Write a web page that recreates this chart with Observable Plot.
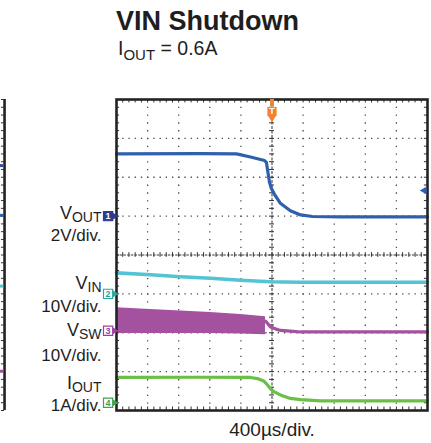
<!DOCTYPE html>
<html>
<head>
<meta charset="utf-8">
<script src="https://cdn.jsdelivr.net/npm/d3@7"></script>
<script src="https://cdn.jsdelivr.net/npm/@observablehq/plot@0.6"></script>
<style>
  body { margin: 0; background: #fff; font-family: "Liberation Sans", Arial, sans-serif; }
  #wrap { position: relative; width: 431px; height: 443px; overflow: hidden; }
  #title { position: absolute; left: 116px; top: 8px; font-size: 27px; font-weight: bold; line-height: 27px; color: #1e1e1e; white-space: nowrap; }
  #subtitle { position: absolute; left: 118px; top: 39px; font-size: 19.5px; line-height: 19.5px; color: #1e1e1e; white-space: nowrap; }
  #subtitle .sub { font-size: 15px; position: relative; top: 5px; }
  #chart svg { display: block; }
</style>
</head>
<body>
<div id="wrap">
  <div id="chart"></div>
  <div id="title">VIN Shutdown</div>
  <div id="subtitle">I<span class="sub">OUT</span> = 0.6A</div>
</div>
<script>
// ---- data (time in divisions, amplitude in divisions from bottom) ----
const timeLabel = "400µs/div.";

const voutT = [0, 2.70, 3.86, 4.31, 4.76, 4.82, 4.87, 4.92, 4.98, 5.08, 5.27, 5.59, 5.92, 6.30, 7.20, 10];
const voutV = [6.60, 6.61, 6.60, 6.52, 6.43, 6.38, 6.12, 5.87, 5.71, 5.56, 5.33, 5.14, 5.03, 4.99, 4.98, 4.98];

const vinT = [0, 1.09, 2.06, 3.02, 3.99, 4.95, 5.92, 10];
const vinV = [3.54, 3.49, 3.44, 3.40, 3.35, 3.31, 3.30, 3.30];

const vswBandT = [0, 1.09, 2.06, 3.02, 3.99, 4.79];
const vswBandHigh = [2.64, 2.60, 2.56, 2.52, 2.47, 2.41];
const vswBandLow = [1.98, 1.98, 1.98, 1.98, 1.97, 1.95];
const vswT = [4.79, 4.86, 4.95, 5.11, 5.27, 5.59, 5.92, 10];
const vswV = [2.30, 2.24, 2.15, 2.10, 2.06, 2.04, 2.02, 2.02];

const ioutT = [0, 2.70, 4.31, 4.53, 4.73, 4.84, 4.95, 5.05, 5.27, 5.59, 5.92, 6.56, 10];
const ioutV = [0.85, 0.855, 0.85, 0.82, 0.76, 0.67, 0.56, 0.49, 0.40, 0.31, 0.28, 0.25, 0.25];

const chIds = ["1", "2", "3", "4"];
const chNames = ["V|OUT", "V|IN", "V|SW", "I|OUT"];
const chScales = ["2V/div.", "10V/div.", "10V/div.", "1A/div."];
const chLevels = [5, 3, 2.05, 0.2];

const trigT = 5.0;
const voutTrigLevel = 5.66;

// neighbouring (cut-off) panel trace ends on the far left
const leftStubLevels = [6.30, 5.02, 3.20, 1.01];

// ---- styles / layout ----
const cBlue = "#2f5fad", cCyan = "#52c4d3", cMag = "#a4529f", cGreen = "#6cbf46", cOrange = "#f3812f";
const chColors = ["#2c3d8f", "#2aa69c", "#9a42a0", "#40a34b"];
const stubColors = ["#3a4d9a", cBlue, cCyan, cMag];
const nameDy = [2.4, -4.5, 5.5, -14];
const scaleDy = [25, 18, 30, 8];

const xMinor = d3.range(0, 10.0001, 0.2);
const yMinor = d3.range(0, 8.0001, 0.2);
const gridStroke = "#4a4a4a";

const toRows = (T, V) => T.map((t, i) => ({t, v: V[i]}));
const vout = toRows(voutT, voutV);
const vin = toRows(vinT, vinV);
const vsw = toRows(vswT, vswV);
const iout = toRows(ioutT, ioutV);
const band = vswBandT.map((t, i) => ({t, hi: vswBandHigh[i], lo: vswBandLow[i]}));
const chans = chIds.map((id, i) => ({id, name: chNames[i], scale: chScales[i], level: chLevels[i], color: chColors[i]}));

const marks = [
  // grid
  Plot.ruleY([1, 2, 3, 5, 6, 7], {stroke: gridStroke, strokeWidth: 1.3, strokeDasharray: "1.3,4.92"}),
  Plot.ruleX([1, 2, 3, 4, 6, 7, 8, 9], {stroke: gridStroke, strokeWidth: 1.3, strokeDasharray: "1.3,6.48"}),
  // centre lines
  Plot.ruleY([4], {stroke: "#333", strokeWidth: 1, strokeDasharray: "2.5,1.2"}),
  Plot.ruleX([5], {stroke: "#333", strokeWidth: 1, strokeDasharray: "3,1.5"}),
  Plot.ruleX(xMinor, {x: d => d, y1: 3.94, y2: 4.06, stroke: "#333", strokeWidth: 1}),
  Plot.ruleY(yMinor, {y: d => d, x1: 4.92, x2: 5.08, stroke: "#333", strokeWidth: 1}),
  // edge ticks
  Plot.ruleX(xMinor, {x: d => d, y1: 8, y2: 7.91, stroke: "#333", strokeWidth: 1}),
  Plot.ruleX(xMinor, {x: d => d, y1: 0, y2: 0.09, stroke: "#333", strokeWidth: 1}),
  Plot.ruleY(yMinor, {y: d => d, x1: 0, x2: 0.1, stroke: "#333", strokeWidth: 1}),
  Plot.ruleY(yMinor, {y: d => d, x1: 9.9, x2: 10, stroke: "#333", strokeWidth: 1}),

  // traces
  Plot.areaY(band, {x: "t", y1: "lo", y2: "hi", fill: cMag, curve: "linear"}),
  Plot.lineY(vsw, {x: "t", y: "v", stroke: cMag, strokeWidth: 3.2}),
  Plot.lineY(vin, {x: "t", y: "v", stroke: cCyan, strokeWidth: 3.6}),
  Plot.lineY(iout, {x: "t", y: "v", stroke: cGreen, strokeWidth: 3.2}),
  Plot.lineY(vout, {x: "t", y: "v", stroke: cBlue, strokeWidth: 3.2}),

  Plot.frame({stroke: "#232323", strokeWidth: 2.6}),

  // trigger marker
  Plot.ruleX([trigT], {y1: 8, y2: 7.82, stroke: cOrange, strokeWidth: 4}),
  Plot.dot([trigT], {x: d => d, y: 7.69, symbol: "square", r: 5.2, fill: cOrange}),
  Plot.dot([trigT], {x: d => d, y: 7.52, symbol: "triangle", rotate: 180, r: 2.8, fill: cOrange}),
  Plot.text([trigT], {x: d => d, y: 7.69, text: () => "T", fill: "#fff", fontSize: 9, fontWeight: "bold"}),
  // trigger level arrow on right
  Plot.dot([voutTrigLevel], {x: 9.9, y: d => d, symbol: "triangle", rotate: -90, r: 3, fill: cBlue}),

  // channel ground markers
  Plot.dot(chans, {x: -0.1, y: "level", symbol: "triangle", rotate: 90, r: 3.4, fill: "color"}),
  Plot.dot(chans, {x: -0.27, y: "level", symbol: "square", r: 5.2, fill: (d, i) => i === 0 ? d.color : "#fff", stroke: "color", strokeWidth: 1.2}),
  Plot.text(chans, {x: -0.27, y: "level", text: "id", fill: (d, i) => i === 0 ? "#fff" : d.color, fontSize: 9, fontWeight: "bold"}),

  // bottom time label
  Plot.text([timeLabel], {x: 5, frameAnchor: "bottom", dy: 25, lineAnchor: "bottom", text: d => d, fontSize: 19, fill: "#1e1e1e"}),

  // neighbouring panel (cut off at left edge)
  Plot.ruleX([-3.6], {x: d => d, y1: 0, y2: 8, stroke: "#232323", strokeWidth: 2.6}),
  Plot.ruleY(yMinor, {y: d => d, x1: -3.7, x2: -3.6, stroke: "#333", strokeWidth: 1}),
  Plot.ruleY(leftStubLevels, {y: d => d, x1: -3.8, x2: -3.62, stroke: (d, i) => stubColors[i], strokeWidth: 3})
];

// channel labels
chans.forEach((c, i) => {
  marks.push(Plot.text([c], {x: 0, y: "level", dx: -15, dy: nameDy[i], lineAnchor: "bottom", textAnchor: "end", text: "name", fontSize: 18, fill: "#1e1e1e"}));
  marks.push(Plot.text([c], {x: 0, y: "level", dx: -15, dy: scaleDy[i], lineAnchor: "bottom", textAnchor: "end", text: "scale", fontSize: 17, fill: "#1e1e1e"}));
});

const chart = Plot.plot({
  width: 431,
  height: 443,
  marginLeft: 116,
  marginRight: 4,
  marginTop: 99,
  marginBottom: 33,
  x: {domain: [0, 10], axis: null},
  y: {domain: [0, 8], axis: null},
  style: {background: "transparent", fontFamily: "'Liberation Sans', Arial, sans-serif", overflow: "visible"},
  marks
});

// subscripts: "V|OUT" -> V with subscript OUT
d3.select(chart).selectAll("text").each(function() {
  const s = this.textContent;
  if (s.includes("|")) {
    const [base, sub] = s.split("|");
    const t = d3.select(this);
    t.text(null);
    t.append("tspan").text(base);
    t.append("tspan").attr("font-size", 14).attr("dy", 3).text(sub);
  }
});

document.getElementById("chart").appendChild(chart);
</script>
</body>
</html>
